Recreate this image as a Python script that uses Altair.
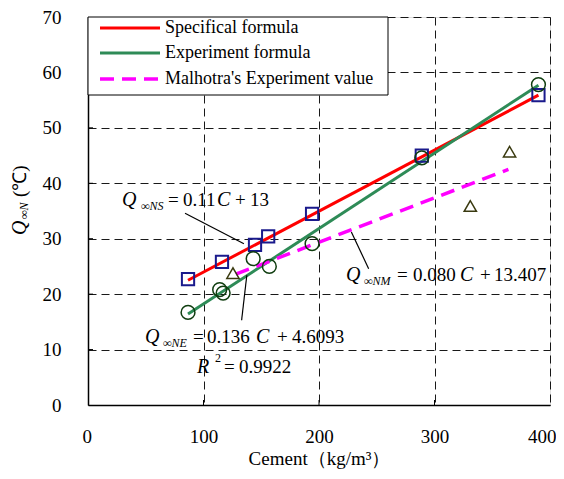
import altair as alt
import pandas as pd

# ---------------- data ----------------
sq_c = [86.6, 116, 144.6, 156, 194, 289, 390]
sq_q = [22.7, 25.8, 28.9, 30.4, 34.5, 45.0, 55.9]

ci_c = [86.6, 114, 117, 143, 157, 194, 289, 390]
ci_q = [16.7, 20.8, 20.2, 26.4, 25.0, 29.1, 44.6, 57.8]

tr_c = [125.5, 331, 365]
tr_q = [23.8, 35.9, 45.7]

red_c = [86.6, 390]
red_q = [22.5, 55.9]
grn_c = [86.6, 390]
grn_q = [16.4, 57.7]
mag_c = [128, 364]
mag_q = [23.6, 42.5]

x_ticks = [0, 100, 200, 300, 400]
y_ticks = [0, 10, 20, 30, 40, 50, 60, 70]

legend_labels = ["Specifical formula", "Experiment formula", "Malhotra's Experiment value"]
legend_colors = ["#FF0000", "#2E8B57", "#FF00FF"]

# annotation pieces: x, y (data units), text, italic, size
ann_x = [29.4, 45.9, 69.3, 82.3, 111.7, 127.3, 140.3,
         49.4, 64.9, 90.9, 103.0, 145.5, 163.6, 176.6,
         94.4, 110.0, 117.7, 130.7,
         223.4, 239.0, 267.5, 281.4, 322.0, 339.4, 351.5]
ann_y = [35.9, 35.2, 35.9, 35.9, 35.9, 35.9, 35.9,
         11.1, 10.4, 11.1, 11.1, 11.1, 11.1, 11.1,
         5.7, 7.7, 5.7, 5.7,
         22.3, 21.6, 22.3, 22.3, 22.3, 22.3, 22.3]
ann_t = ["Q", "∞NS", "=", "0.11", "C", "+", "13",
         "Q", "∞NE", "=", "0.136", "C", "+", "4.6093",
         "R", "2", "=", "0.9922",
         "Q", "∞NM", "=", "0.080", "C", "+", "13.407"]
ann_it = [True, True, False, False, True, False, False,
          True, True, False, False, True, False, False,
          True, False, False, False,
          True, True, False, False, True, False, False]
ann_sz = [20, 12, 19, 19, 20, 19, 19,
          20, 12, 19, 19, 20, 19, 19,
          20, 12, 19, 19,
          20, 12, 19, 19, 20, 19, 19]

# leader lines (data units)
lead_x1 = [84, 137.5, 228]
lead_y1 = [34.6, 23.4, 31.2]
lead_x2 = [135, 133, 243]
lead_y2 = [29.1, 15.3, 24.6]

FONT = "Liberation Serif, Times New Roman, serif"
W, H = 462, 388

xs = alt.Scale(domain=[0, 400], nice=False, zero=False)
ys = alt.Scale(domain=[0, 70], nice=False, zero=False)

base_x = alt.X("c:Q", scale=xs, axis=alt.Axis(
    values=x_ticks, title="Cement（kg/m³）", grid=True, gridDash=[8, 5],
    gridColor="#000000", gridWidth=1, gridOpacity=0.9, ticks=False, labelPadding=22,
    labelFontSize=19, labelFont=FONT, labelColor="#000", domainColor="#000",
    domainWidth=1.5, titleFont=FONT, titleFontSize=19, titleFontWeight="normal",
    titleColor="#000", titlePadding=3, labelFlush=True, labelFlushOffset=6))
base_y = alt.Y("q:Q", scale=ys, axis=alt.Axis(
    values=y_ticks, title=None, grid=True, gridDash=[8, 5],
    gridColor="#000000", gridWidth=1, gridOpacity=0.9, ticks=False, labelPadding=27,
    labelFontSize=19, labelFont=FONT, labelColor="#000", domainColor="#000",
    domainWidth=1.5, labelFlush=False))

grid_layer = alt.Chart(pd.DataFrame({"c": [0], "q": [0]})).mark_point(opacity=0).encode(
    x=base_x, y=base_y)

def line_df(cs, qs):
    return pd.DataFrame({"c": cs, "q": qs})

red = alt.Chart(line_df(red_c, red_q)).mark_line(color="#FF0000", strokeWidth=3).encode(
    x=alt.X("c:Q", scale=xs), y=alt.Y("q:Q", scale=ys))
grn = alt.Chart(line_df(grn_c, grn_q)).mark_line(color="#2E8B57", strokeWidth=3).encode(
    x=alt.X("c:Q", scale=xs), y=alt.Y("q:Q", scale=ys))
mag = alt.Chart(line_df(mag_c, mag_q)).mark_line(color="#FF00FF", strokeWidth=3.5,
                                                  strokeDash=[14, 8]).encode(
    x=alt.X("c:Q", scale=xs), y=alt.Y("q:Q", scale=ys))

squares = alt.Chart(line_df(sq_c, sq_q)).mark_point(
    shape="square", size=150, filled=False, color="#1A1A8C", strokeWidth=2, opacity=1).encode(
    x=alt.X("c:Q", scale=xs), y=alt.Y("q:Q", scale=ys))
circles = alt.Chart(line_df(ci_c, ci_q)).mark_point(
    shape="circle", size=190, filled=False, color="#0F3D0F", strokeWidth=1.5, opacity=1).encode(
    x=alt.X("c:Q", scale=xs), y=alt.Y("q:Q", scale=ys))
triangles = alt.Chart(line_df(tr_c, tr_q)).mark_point(
    shape="triangle-up", size=150, filled=False, color="#3A3A10", strokeWidth=1.5, opacity=1).encode(
    x=alt.X("c:Q", scale=xs), y=alt.Y("q:Q", scale=ys))

# inward ticks
ytick = alt.Chart(pd.DataFrame({"q": y_ticks[1:-1]})).mark_rule(color="#000", strokeWidth=1).encode(
    y=alt.Y("q:Q", scale=ys), x=alt.value(0), x2=alt.value(5))
xtick = alt.Chart(pd.DataFrame({"c": x_ticks[1:-1]})).mark_rule(color="#000", strokeWidth=1).encode(
    x=alt.X("c:Q", scale=xs), y=alt.value(H), y2=alt.value(H - 5))

# leader lines
leads = alt.Chart(pd.DataFrame({"c": lead_x1, "q": lead_y1, "c2": lead_x2, "q2": lead_y2})).mark_rule(
    color="#000", strokeWidth=1.2).encode(
    x=alt.X("c:Q", scale=xs), y=alt.Y("q:Q", scale=ys), x2="c2:Q", y2="q2:Q")

ann = pd.DataFrame({"c": ann_x, "q": ann_y, "t": ann_t, "it": ann_it, "s": ann_sz})
ann_it_layer = alt.Chart(ann[ann.it]).mark_text(
    font=FONT, fontStyle="italic", align="left", baseline="alphabetic", color="#000").encode(
    x=alt.X("c:Q", scale=xs), y=alt.Y("q:Q", scale=ys), text="t:N", size=alt.Size("s:Q", scale=None))
ann_n_layer = alt.Chart(ann[~ann.it]).mark_text(
    font=FONT, align="left", baseline="alphabetic", color="#000").encode(
    x=alt.X("c:Q", scale=xs), y=alt.Y("q:Q", scale=ys), text="t:N", size=alt.Size("s:Q", scale=None))

# y title built from pieces (rotated)
one = pd.DataFrame({"a": [0]})
yt_q = alt.Chart(one).mark_text(font=FONT, fontStyle="italic", fontSize=20, angle=270,
                                align="left", baseline="middle", color="#000").encode(
    x=alt.value(-68), y=alt.value(218), text=alt.value("Q"))
yt_sub = alt.Chart(one).mark_text(font=FONT, fontStyle="italic", fontSize=12, angle=270,
                                  align="left", baseline="middle", color="#000").encode(
    x=alt.value(-64), y=alt.value(202), text=alt.value("∞N"))
yt_unit = alt.Chart(one).mark_text(font=FONT, fontSize=19, angle=270,
                                   align="left", baseline="middle", color="#000").encode(
    x=alt.value(-68), y=alt.value(180), text=alt.value("(℃)"))

# legend
leg_box = alt.Chart(one).mark_rect(fill="white", stroke="#000", strokeWidth=1).encode(
    x=alt.value(0), x2=alt.value(300), y=alt.value(0), y2=alt.value(78))
leg_layers = []
row_y = [11, 36, 62]
for i, (lab, col) in enumerate(zip(legend_labels, legend_colors)):
    kw = dict(color=col, strokeWidth=3)
    if i == 2:
        kw["strokeDash"] = [14, 8]
        kw["strokeWidth"] = 3.5
    leg_layers.append(alt.Chart(one).mark_rule(**kw).encode(
        x=alt.value(12), x2=alt.value(72), y=alt.value(row_y[i])))
    leg_layers.append(alt.Chart(one).mark_text(font=FONT, fontSize=18, align="left",
                                               baseline="middle", color="#000").encode(
        x=alt.value(77), y=alt.value(row_y[i]), text=alt.value(lab)))

chart = alt.layer(
    grid_layer, ytick, xtick, red, grn, mag, squares, circles, triangles,
    leads, ann_it_layer, ann_n_layer, yt_q, yt_sub, yt_unit, leg_box, *leg_layers
).properties(
    width=W, height=H,
    autosize=alt.AutoSizeParams(type="none"),
    padding={"left": 80, "top": 9, "right": 6, "bottom": 66},
).configure_view(stroke="#444", strokeWidth=1).configure(background="white")

chart.save("out.html", embed_options={"renderer": "svg", "actions": False})
